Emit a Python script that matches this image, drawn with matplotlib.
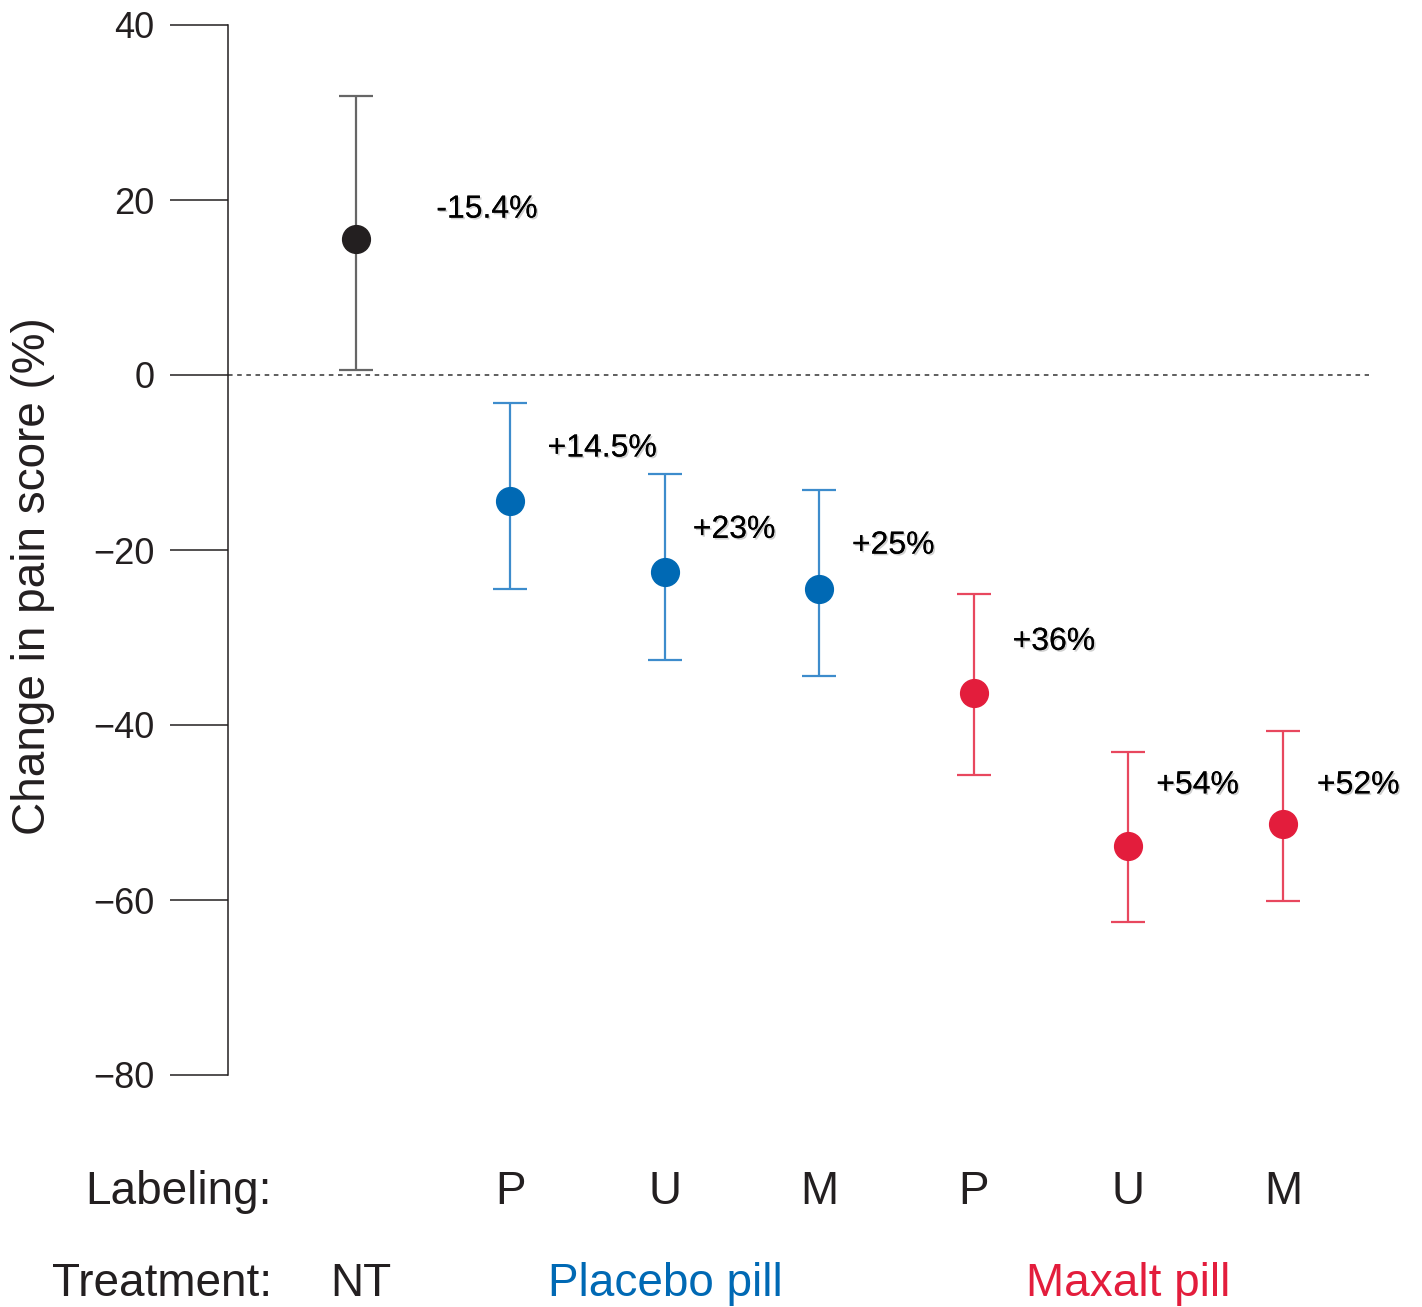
import matplotlib
matplotlib.use("Agg")
import matplotlib.pyplot as plt
import matplotlib.patheffects as pe
import matplotlib.transforms as mtransforms

plt.rcParams["font.family"] = ["Liberation Sans", "DejaVu Sans"]

# data
labeling = ["", "P", "U", "M", "P", "U", "M"]
means = [15.6, -14.4, -22.5, -24.5, -36.3, -53.8, -51.3]
upper = [31.9, -3.2, -11.3, -13.1, -25.0, -43.1, -40.7]
lower = [0.6, -24.5, -32.6, -34.4, -45.7, -62.5, -60.1]
pct_labels = ["-15.4%", "+14.5%", "+23%", "+25%", "+36%", "+54%", "+52%"]
pct_x = [0.52, 1.24, 2.18, 3.21, 4.25, 5.18, 6.22]
pct_y = [18.9, -8.4, -17.7, -19.5, -30.5, -46.9, -46.9]
groups = ["NT", "Placebo pill", "Maxalt pill"]
group_x = [0.03, 2, 5]

MARK = ["#231f20", "#0069b4", "#0069b4", "#0069b4", "#e31d3c", "#e31d3c", "#e31d3c"]
BAR = ["#666666", "#3d8ccc", "#3d8ccc", "#3d8ccc", "#e8475e", "#e8475e", "#e8475e"]
GCOL = ["#231f20", "#0069b4", "#e31d3c"]

fig = plt.figure(figsize=(14.22, 13.07), dpi=100)
ax = fig.add_axes([228 / 1422, 1 - 1075 / 1307, 1 - 228 / 1422, 1050 / 1307])

for i, m in enumerate(means):
    ax.errorbar(i, m, yerr=[[m - lower[i]], [upper[i] - m]], fmt="o", color=MARK[i],
                ecolor=BAR[i], elinewidth=1.6, capsize=12, capthick=1.6, ms=20, zorder=3)
    ax.text(pct_x[i], pct_y[i], pct_labels[i], fontsize=23, ha="left", va="center",
            path_effects=[pe.withSimplePatchShadow(offset=(1.2, -1.2), shadow_rgbFace="#999999", alpha=0.45),
                          pe.Normal()])

ax.set_xlim(-0.8285, 6.9)
ax.set_ylim(-80, 40)
ax.hlines(0, -0.8285, 6.56, colors="#333333", linestyles=(0, (3, 3)), lw=1.1)

ax.set_yticks([40, 20, 0, -20, -40, -60, -80])
ax.set_yticklabels(["40", "20", "0", "\u221220", "\u221240", "\u221260", "\u221280"])
ax.tick_params(axis="y", length=42, width=1.1, pad=11, labelsize=26, colors="#231f20")
ax.set_xticks([])
for s in ["top", "right", "bottom"]:
    ax.spines[s].set_visible(False)
ax.spines["left"].set_linewidth(1.1)
ax.spines["left"].set_color("#231f20")

fig.text(33 / 1422, 0.559, "Change in pain score (%)", rotation=90, ha="center", va="center",
         fontsize=33, color="#231f20")

tr = mtransforms.blended_transform_factory(ax.transData, fig.transFigure)
y_lab = 1 - 1192 / 1307
y_trt = 1 - 1284 / 1307
fig.text(272 / 1422, y_lab, "Labeling:", ha="right", va="center", fontsize=33, color="#231f20")
fig.text(272 / 1422, y_trt, "Treatment:", ha="right", va="center", fontsize=33, color="#231f20")
for i, lab in enumerate(labeling):
    if lab:
        ax.text(i, y_lab, lab, transform=tr, ha="center", va="center", fontsize=33,
                color="#231f20", clip_on=False)
for gx, g, c in zip(group_x, groups, GCOL):
    ax.text(gx, y_trt, g, transform=tr, ha="center", va="center", fontsize=33, color=c, clip_on=False)

fig.savefig("out.png", dpi=100)
